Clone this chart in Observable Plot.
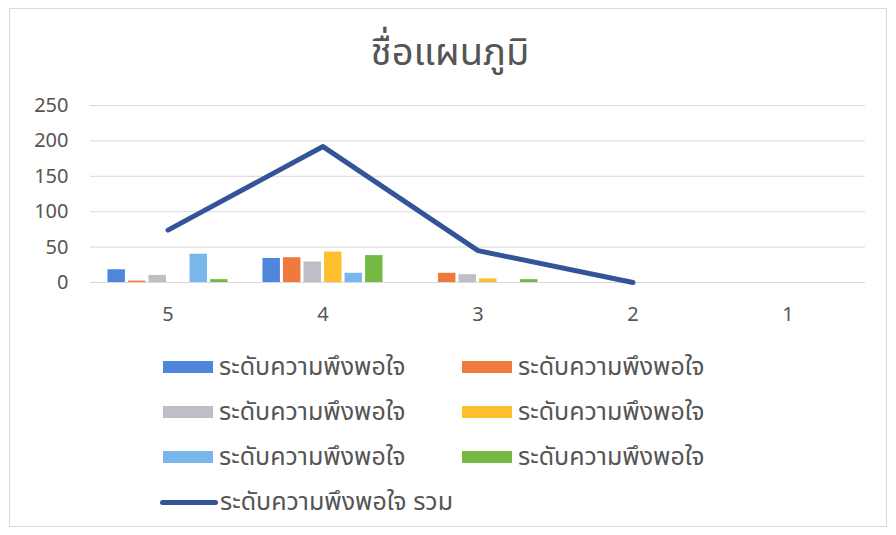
<!DOCTYPE html>
<html>
<head>
<meta charset="utf-8">
<script src="https://cdn.jsdelivr.net/npm/d3@7"></script>
<script src="https://cdn.jsdelivr.net/npm/@observablehq/plot@0.6"></script>
<style>
  html, body { margin: 0; padding: 0; background: #fff; }
  #wrap { position: relative; width: 896px; height: 535px; overflow: hidden; font-family: "Noto Sans Thai", Tahoma, "Noto Sans", "DejaVu Sans", sans-serif; color: #595959; }
  #frame { position: absolute; left: 9px; top: 8px; width: 878px; height: 519px; border: 1px solid #d9d9d9; box-sizing: border-box; }
  #title { position: absolute; left: 0; width: 900px; top: 30px; text-align: center; font-size: 38px; color: #555; line-height: 48px; }
  #chart { position: absolute; left: 0; top: 80px; }
  .lg { position: absolute; display: flex; align-items: center; font-size: 25px; color: #555; white-space: nowrap; }
  .sw { width: 50px; height: 12px; margin-right: 6px; }
  .ln { width: 58px; height: 5px; border-radius: 3px; margin-right: 2px; }
</style>
</head>
<body>
<div id="wrap">
  <div id="frame"></div>
  <div id="title">ชื่อแผนภูมิ</div>
  <div id="chart"></div>
  <div id="legend"></div>
</div>
<script>
const categories = ["5", "4", "3", "2", "1"];
const seriesKeys = ["s1", "s2", "s3", "s4", "s5", "s6"];
const seriesNames = ["ระดับความพึงพอใจ", "ระดับความพึงพอใจ", "ระดับความพึงพอใจ", "ระดับความพึงพอใจ", "ระดับความพึงพอใจ", "ระดับความพึงพอใจ"];
const totalName = "ระดับความพึงพอใจ รวม";
const s1 = [18, 34, 0, 0, 0];
const s2 = [2, 35, 13, 0, 0];
const s3 = [10, 29, 11, 0, 0];
const s4 = [0, 43, 5, 0, 0];
const s5 = [40, 13, 0, 0, 0];
const s6 = [4, 38, 4, 0, 0];
const total = [74, 192, 45, 0, null];
const yTicks = [0, 50, 100, 150, 200, 250];
const colors = ["#4e86dc", "#f07a3c", "#bfbdc6", "#fdbf2d", "#78b6ec", "#74b944"];
const lineColor = "#34549a";

const seriesValues = [s1, s2, s3, s4, s5, s6];
const W = 896, H = 260, mL = 90, mR = 31, mT = 25, mB = 58;
const bw = (W - mL - mR) / categories.length;
const inner = d3.scaleBand().domain(seriesKeys).range([0, bw]).paddingInner(0.15).paddingOuter(0.85);

const barMarks = seriesKeys.map((k, i) => {
  const rows = categories.map((c, j) => ({cat: c, value: seriesValues[i][j]}));
  const left = inner(k);
  return Plot.barY(rows, {
    x: "cat", y: "value", fill: colors[i],
    insetLeft: left, insetRight: bw - left - inner.bandwidth()
  });
});

const lineRows = categories.map((c, j) => ({cat: c, value: total[j]}));

const plot = Plot.plot({
  width: W, height: H,
  marginLeft: mL, marginRight: mR, marginTop: mT, marginBottom: mB,
  style: {fontFamily: "'Noto Sans', 'Open Sans', sans-serif", fontSize: "20px", color: "#555", background: "transparent"},
  x: {domain: categories, padding: 0, label: null, tickSize: 0, tickPadding: 24},
  y: {domain: [0, 250], ticks: yTicks, label: null, tickSize: 0, tickPadding: 22},
  marks: [
    Plot.ruleY(yTicks, {stroke: "#d9d9d9", strokeWidth: 1}),
    ...barMarks,
    Plot.line(lineRows.filter(d => d.value != null), {x: "cat", y: "value", stroke: lineColor, strokeWidth: 5, strokeLinejoin: "round", strokeLinecap: "round"})
  ]
});
document.getElementById("chart").appendChild(plot);

// Legend
const legend = document.getElementById("legend");
const rowsY = [367, 412, 457];
const colX = [163, 462];
seriesKeys.forEach((k, i) => {
  const d = document.createElement("div");
  d.className = "lg";
  d.style.left = colX[i % 2] + "px";
  d.style.top = (rowsY[Math.floor(i / 2)] - 18) + "px";
  d.style.height = "36px";
  d.innerHTML = `<span class="sw" style="background:${colors[i]}"></span><span>${seriesNames[i]}</span>`;
  legend.appendChild(d);
});
const dl = document.createElement("div");
dl.className = "lg";
dl.style.left = "160px";
dl.style.top = (502 - 18) + "px";
dl.style.height = "36px";
dl.innerHTML = `<span class="ln" style="background:${lineColor}"></span><span>${totalName}</span>`;
legend.appendChild(dl);
</script>
</body>
</html>
